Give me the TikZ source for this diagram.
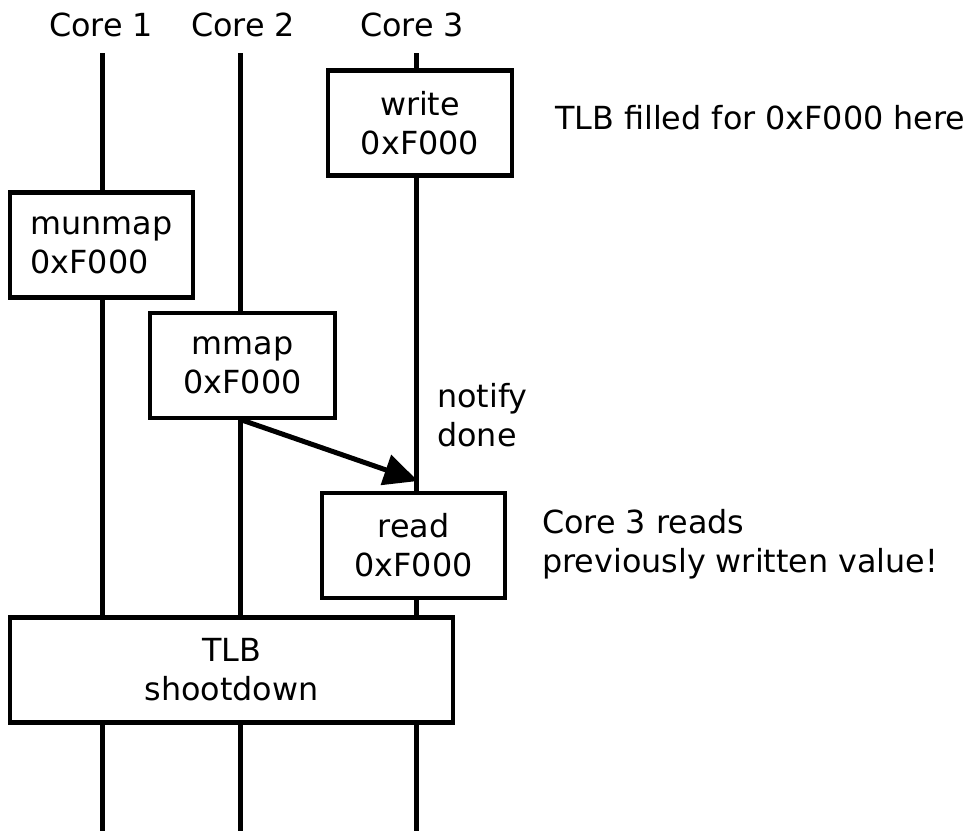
\documentclass[tikz,border=0pt]{standalone}
\usepackage{fontspec}
\setmainfont{DejaVu Sans}
\usetikzlibrary{arrows.meta}
\begin{document}
\begin{tikzpicture}[x=1pt,y=-1pt,
  every node/.style={font=\fontsize{31.8}{39}\selectfont, inner sep=0pt},
  opbox/.style={draw, line width=4.5pt, fill=white, align=center, minimum height=105pt},
  lifeline/.style={line width=5pt},
  note/.style={align=left, anchor=west}]
\useasboundingbox (0,0) rectangle (973,831);
% lifeline ends
\coordinate (c1top) at (102,53);  \coordinate (c1bot) at (102,831);
\coordinate (c2top) at (240,53);  \coordinate (c2bot) at (240,831);
\coordinate (c3top) at (416,53);  \coordinate (c3bot) at (416,831);
\draw[lifeline] (c1top) -- (c1bot);
\draw[lifeline] (c2top) -- (c2bot);
\draw[lifeline] (c3top) -- (c3bot);
% labels
\node (h1) at (101,24.5) {Core 1};
\node (h2) at (243,24.5) {Core 2};
\node (h3) at (412,24.5) {Core 3};
% boxes
\node[opbox, minimum width=184pt] (write) at (420,123) {write\\0xF000};
\node[opbox, minimum width=183pt, align=left] (munmap) at (101.5,245) {munmap\\0xF000};
\node[opbox, minimum width=185pt] (mmap) at (242.5,365.5) {mmap\\0xF000};
\node[opbox, minimum width=183pt] (read) at (413.5,545.5) {read\\0xF000};
\node[opbox, minimum width=443pt] (tlb) at (231.5,670) {TLB\\shootdown};
% arrow
\coordinate (tip) at (418,481);
\draw[line width=5pt, -{Triangle[length=34pt,width=31pt]}] (mmap.south) -- (tip);
% notes
\node[note] (notify) at (437,415) {notify\\done};
\node[note] (fill) at (555,118) {TLB filled for 0xF000 here};
\node[note] (reads) at (542,544.5) {Core 3 reads\\previously written value!};
\end{tikzpicture}
\end{document}
